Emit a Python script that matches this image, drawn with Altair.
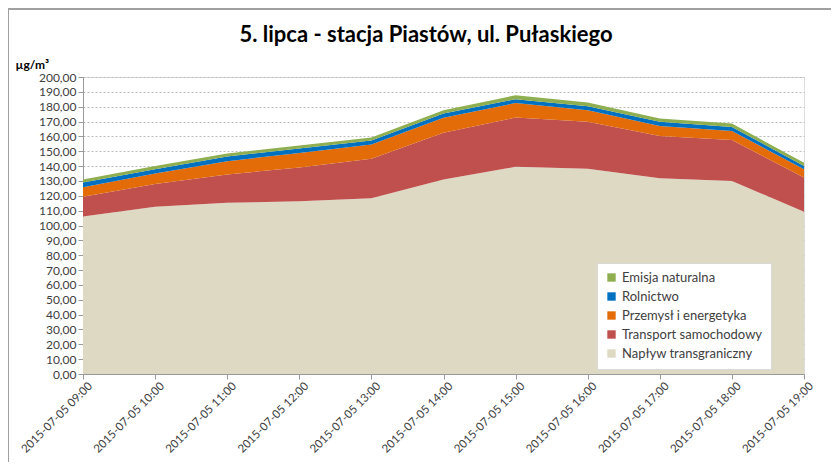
import altair as alt
import pandas as pd

hours = ["2015-07-05 09:00", "2015-07-05 10:00", "2015-07-05 11:00", "2015-07-05 12:00",
         "2015-07-05 13:00", "2015-07-05 14:00", "2015-07-05 15:00", "2015-07-05 16:00",
         "2015-07-05 17:00", "2015-07-05 18:00", "2015-07-05 19:00"]

naplyw = [106.0, 112.6, 115.3, 116.3, 118.3, 131.0, 139.5, 138.2, 131.9, 129.9, 109.3]
transport = [13.4, 15.3, 19.1, 22.8, 26.6, 31.4, 33.2, 31.6, 28.4, 27.6, 23.1]
przemysl = [6.3, 7.1, 8.9, 9.8, 9.7, 10.1, 9.8, 7.8, 6.7, 6.2, 5.4]
rolnictwo = [3.3, 2.8, 3.2, 3.0, 2.7, 2.9, 2.6, 2.7, 2.8, 2.7, 2.2]
emisja = [2.0, 2.2, 2.0, 2.0, 2.0, 2.2, 2.6, 2.5, 2.2, 2.3, 2.2]

series_names = ["Napływ transgraniczny", "Transport samochodowy", "Przemysł i energetyka",
                "Rolnictwo", "Emisja naturalna"]
series_values = [naplyw, transport, przemysl, rolnictwo, emisja]
legend_order = ["Emisja naturalna", "Rolnictwo", "Przemysł i energetyka",
                "Transport samochodowy", "Napływ transgraniczny"]
legend_colors = ["#8FAE4F", "#0070C0", "#E36C09", "#C0504D", "#DDD9C3"]
chart_title = "5. lipca - stacja Piastów, ul. Pułaskiego"

rows = []
for k, (name, vals) in enumerate(zip(series_names, series_values)):
    for h, v in zip(hours, vals):
        rows.append({"czas": h, "seria": name, "wartosc": v, "k": k})
df = pd.DataFrame(rows)

W, H = 721, 297
FONT = "Lato"

area = alt.Chart(df).mark_area(opacity=1, interpolate="linear").encode(
    x=alt.X("czas:O", sort=hours, scale=alt.Scale(type="point", padding=0),
            axis=alt.Axis(title=None, labelAngle=-45, labelAlign="right", labelBaseline="top",
                          labelFont=FONT, labelFontSize=11.5, labelColor="#404040",
                          tickColor="#999999", tickSize=5, domainColor="#999999",
                          labelPadding=1, grid=False, labelOffset=3)),
    y=alt.Y("wartosc:Q", stack="zero", scale=alt.Scale(domain=[0, 200], nice=False),
            axis=alt.Axis(values=list(range(0, 201, 10)),
                          labelExpr="replace(format(datum.value, '.2f'), '.', ',')",
                          labelFont=FONT, labelFontSize=12, labelColor="#404040",
                          tickColor="#999999", tickSize=5, domainColor="#999999",
                          grid=True, gridColor="#BBBBBB", gridDash=[2, 2], gridWidth=1,
                          title="µg/m³", titleAngle=0, titleAlign="left", titleBaseline="bottom",
                          titleX=-68, titleY=-6, titleFont=FONT, titleFontSize=12,
                          titleFontWeight="bold", titleColor="#000000")),
    color=alt.Color("seria:N", scale=alt.Scale(domain=legend_order, range=legend_colors),
                    legend=alt.Legend(title=None, orient="none", legendX=514, legendY=186,
                                      symbolType="square", symbolSize=70, symbolStrokeWidth=0,
                                      labelFont=FONT, labelFontSize=13, labelColor="#404040",
                                      rowPadding=5, fillColor="white", strokeColor="#D9D9D9",
                                      padding=8, labelLimit=300)),
    order=alt.Order("k:Q", sort="ascending"),
)

frame_top = alt.Chart(df).mark_rule(color="#A0A0A0", strokeWidth=2).encode(
    x=alt.value(-75), x2=alt.value(W + 40), y=alt.value(-68))
frame_left = alt.Chart(df).mark_rule(color="#A0A0A0", strokeWidth=2).encode(
    x=alt.value(-75), y=alt.value(-68), y2=alt.value(H + 100))

title_text = alt.Chart(pd.DataFrame({"t": [chart_title]})).mark_text(
    font=FONT, fontSize=22, fontWeight="bold", color="#000000",
    align="center", baseline="middle").encode(
    text="t:N", x=alt.value(343), y=alt.value(-42))

chart = alt.layer(area, frame_top, frame_left, title_text).properties(
    width=W, height=H,
    autosize=alt.AutoSizeParams(type="none"),
    padding={"left": 75, "top": 69, "right": 27, "bottom": 88},
).configure_view(stroke=None).configure(background="white")

chart.save("out.html", embed_options={"renderer": "svg", "actions": False})
